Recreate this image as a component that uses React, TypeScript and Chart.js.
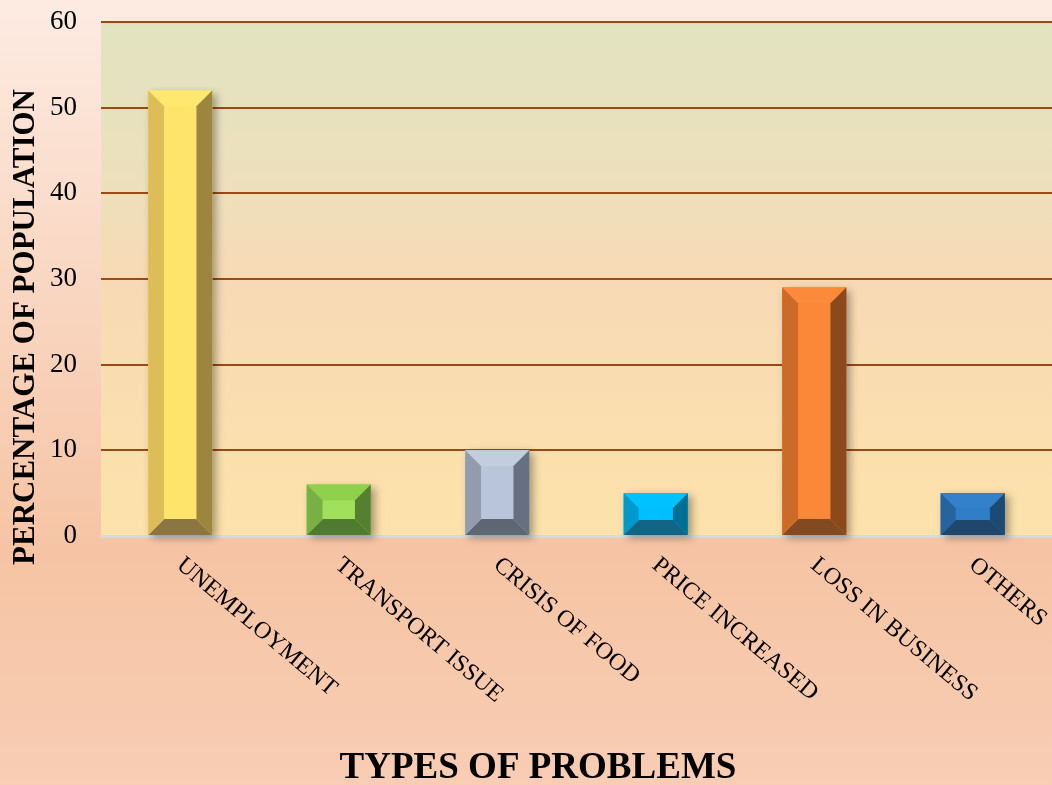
import React, { useEffect, useRef } from 'react';
import { Chart, registerables } from 'chart.js';
Chart.register(...registerables);

const W = 1052;
const H = 785;

const categories = ['UNEMPLOYMENT', 'TRANSPORT ISSUE', 'CRISIS OF FOOD', 'PRICE INCREASED', 'LOSS IN BUSINESS', 'OTHERS'];
const values = [52, 6, 10, 5, 29, 5];
const faceColors = ['#ffe46c', '#a0e05a', '#b9c5da', '#00bfff', '#fa8838', '#2f7ec8'];
const topColors = ['#ffe86f', '#8fd04c', '#c2cde0', '#00c2ff', '#fb8a3a', '#3380cb'];
const leftColors = ['#dcbd58', '#78b043', '#919cad', '#0099cc', '#cc6a28', '#25649e'];
const rightColors = ['#9b853f', '#558030', '#677080', '#006f94', '#8c4a1c', '#1b4a73'];
const bottomColors = ['#8b7543', '#4f7a2f', '#5f6673', '#136585', '#834a22', '#1f476c'];
const yTicks = [0, 10, 20, 30, 40, 50, 60];

const SERIF = '"Liberation Serif", "Times New Roman", serif';

function poly(ctx: CanvasRenderingContext2D, pts: number[][], color: string) {
  ctx.beginPath();
  ctx.moveTo(pts[0][0], pts[0][1]);
  for (let i = 1; i < pts.length; i++) ctx.lineTo(pts[i][0], pts[i][1]);
  ctx.closePath();
  ctx.fillStyle = color;
  ctx.fill();
}

const decorPlugin = {
  id: 'decor',
  beforeDraw(chart: any) {
    const { ctx, chartArea } = chart;
    ctx.save();
    const g = ctx.createLinearGradient(0, 0, 0, H);
    g.addColorStop(0, '#fdebe2');
    g.addColorStop(0.7, '#f6c4a4');
    g.addColorStop(1, '#f8cdb4');
    ctx.fillStyle = g;
    ctx.fillRect(0, 0, W, H);
    const pg = ctx.createLinearGradient(0, chartArea.top, 0, chartArea.bottom);
    pg.addColorStop(0, '#e1e3c0');
    pg.addColorStop(0.3, '#ede0bc');
    pg.addColorStop(0.5, '#f7dab5');
    pg.addColorStop(1, '#fde2ab');
    ctx.fillStyle = pg;
    ctx.fillRect(chartArea.left, chartArea.top, chartArea.right - chartArea.left, chartArea.bottom - chartArea.top);
    ctx.restore();
  },
  afterDatasetsDraw(chart: any) {
    const { ctx } = chart;
    const meta = chart.getDatasetMeta(0);
    ctx.save();
    meta.data.forEach((el: any, i: number) => {
      const x0 = el.x - el.width / 2;
      const x1 = el.x + el.width / 2;
      const top = Math.min(el.y, el.base);
      const bottom = Math.max(el.y, el.base);
      const h = bottom - top;
      const b = Math.min(16, h * 0.36, el.width * 0.3);
      ctx.save();
      ctx.shadowColor = 'rgba(0,0,0,0.35)';
      ctx.shadowBlur = 8;
      ctx.shadowOffsetX = 4;
      ctx.shadowOffsetY = 3;
      ctx.fillStyle = faceColors[i];
      ctx.fillRect(x0, top, x1 - x0, h);
      ctx.restore();
      poly(ctx, [[x0, top], [x1, top], [x1 - b, top + b], [x0 + b, top + b]], topColors[i]);
      poly(ctx, [[x0, bottom], [x1, bottom], [x1 - b, bottom - b], [x0 + b, bottom - b]], bottomColors[i]);
      poly(ctx, [[x0, top], [x0 + b, top + b], [x0 + b, bottom - b], [x0, bottom]], leftColors[i]);
      poly(ctx, [[x1, top], [x1 - b, top + b], [x1 - b, bottom - b], [x1, bottom]], rightColors[i]);
      ctx.fillStyle = faceColors[i];
      ctx.fillRect(x0 + b, top + b, x1 - x0 - 2 * b, h - 2 * b);
    });
    ctx.restore();
  },
  afterDraw(chart: any) {
    const { ctx, chartArea } = chart;
    const xs = chart.scales.x;
    ctx.save();
    ctx.fillStyle = '#000';
    ctx.font = `24px ${SERIF}`;
    ctx.textAlign = 'left';
    ctx.textBaseline = 'top';
    categories.forEach((c, i) => {
      const x = xs.getPixelForTick(i);
      ctx.save();
      ctx.translate(x + 7, chartArea.bottom + 17);
      ctx.rotate((40 * Math.PI) / 180);
      ctx.fillText(c, 0, 0);
      ctx.restore();
    });
    ctx.font = `bold 37px ${SERIF}`;
    ctx.textAlign = 'center';
    ctx.textBaseline = 'alphabetic';
    ctx.fillText('TYPES OF PROBLEMS', 538, 778);
    ctx.save();
    ctx.translate(34, 327);
    ctx.rotate(-Math.PI / 2);
    ctx.font = `bold 31px ${SERIF}`;
    ctx.textAlign = 'center';
    ctx.textBaseline = 'alphabetic';
    ctx.fillText('PERCENTAGE OF POPULATION', 0, 0);
    ctx.restore();
    ctx.restore();
  },
};

export default function App() {
  const ref = useRef<HTMLCanvasElement>(null);
  useEffect(() => {
    document.body.style.margin = '0';
    const canvas = ref.current!;
    const chart = new Chart(canvas, {
      type: 'bar',
      data: {
        labels: categories,
        datasets: [
          {
            data: values,
            backgroundColor: faceColors,
            borderWidth: 0,
            barPercentage: 0.404,
            categoryPercentage: 1,
          },
        ],
      },
      options: {
        responsive: false,
        animation: false,
        layout: { padding: { top: 22, right: 0, left: 0, bottom: 0 } },
        plugins: { legend: { display: false }, tooltip: { enabled: false } },
        scales: {
          x: {
            grid: { display: false, drawTicks: false },
            border: { display: true, color: '#d9d9d9', width: 3 },
            ticks: { display: false },
            afterFit: (s: any) => {
              s.height = 249;
            },
          },
          y: {
            min: 0,
            max: 60,
            afterBuildTicks: (s: any) => {
              s.ticks = yTicks.map((v) => ({ value: v }));
            },
            grid: {
              drawTicks: false,
              lineWidth: 2,
              color: (c: any) => (c.tick && c.tick.value === 0 ? 'rgba(0,0,0,0)' : '#9b4a15'),
            },
            border: { display: false },
            ticks: {
              padding: 24,
              color: '#000',
              font: { family: SERIF, size: 27 },
            },
            afterFit: (s: any) => {
              s.width = 101;
              s.paddingTop = 0;
              s.paddingBottom = 0;
            },
          },
        },
      },
      plugins: [decorPlugin],
    });
    return () => chart.destroy();
  }, []);
  return <canvas ref={ref} width={W} height={H} style={{ display: 'block', width: W, height: H }} />;
}
